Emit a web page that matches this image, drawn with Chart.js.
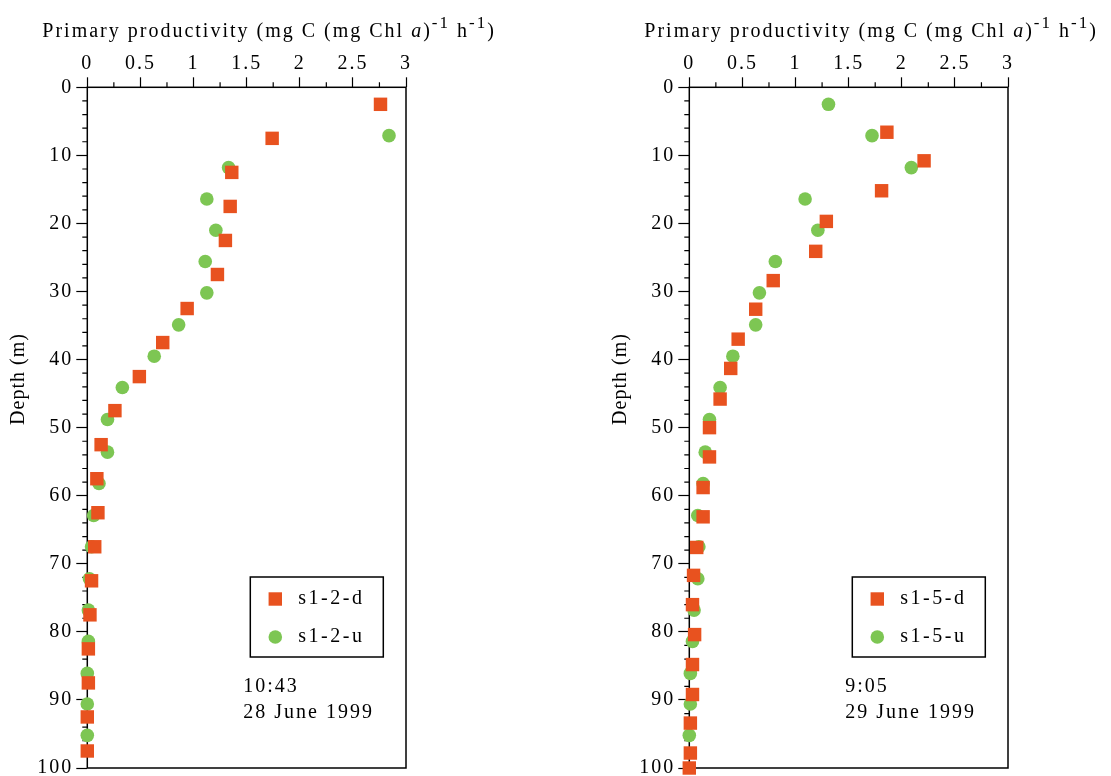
<!DOCTYPE html>
<html>
<head>
<meta charset="utf-8">
<script src="https://cdn.jsdelivr.net/npm/chart.js@4.4.0/dist/chart.umd.min.js"></script>
<style>
    html, body { margin: 0; padding: 0; background: #fff; overflow: hidden; }
    .panel { position: absolute; top: 0; height: 783px; }
</style>
</head>
<body>
<div class="panel" style="left:0;width:520px"><canvas id="chartLeft"></canvas></div>
<div class="panel" style="left:602px;width:509px"><canvas id="chartRight"></canvas></div>
<script>
// axis ticks
const productivityTicks = [0, 0.5, 1, 1.5, 2, 2.5, 3];
const depthTicks = [0, 10, 20, 30, 40, 50, 60, 70, 80, 90, 100];

// station s1-2, 28 June 1999
const s12dDepth = [2.5, 7.5, 12.5, 17.5, 22.5, 27.5, 32.5, 37.5, 42.5, 47.5, 52.5, 57.5, 62.5, 67.5, 72.5, 77.5, 82.5, 87.5, 92.5, 97.5];
const s12dValue = [2.76, 1.74, 1.36, 1.345, 1.30, 1.225, 0.94, 0.71, 0.49, 0.26, 0.13, 0.09, 0.10, 0.07, 0.04, 0.025, 0.01, 0.01, 0, 0];
const s12uDepth = [7.1, 11.8, 16.4, 21.0, 25.6, 30.2, 34.9, 39.5, 44.1, 48.8, 53.6, 58.2, 62.9, 67.5, 72.2, 76.8, 81.4, 86.1, 90.6, 95.2];
const s12uValue = [2.84, 1.33, 1.125, 1.21, 1.11, 1.125, 0.86, 0.63, 0.33, 0.19, 0.19, 0.11, 0.06, 0.04, 0.02, 0.01, 0.01, 0, 0, 0];

// station s1-5, 29 June 1999
const s15dDepth = [6.6, 10.8, 15.2, 19.7, 24.1, 28.4, 32.6, 37.0, 41.3, 45.8, 50.0, 54.3, 58.8, 63.1, 67.6, 71.7, 76.0, 80.4, 84.8, 89.2, 93.4, 97.8, 100];
const s15dValue = [1.86, 2.21, 1.81, 1.29, 1.19, 0.79, 0.625, 0.46, 0.39, 0.29, 0.19, 0.19, 0.13, 0.13, 0.07, 0.04, 0.03, 0.05, 0.03, 0.03, 0.01, 0.01, 0];
const s15uDepth = [2.5, 7.1, 11.8, 16.4, 21.0, 25.6, 30.2, 34.9, 39.5, 44.1, 48.8, 53.6, 58.2, 62.9, 67.5, 72.2, 76.8, 81.4, 86.1, 90.6, 95.2];
const s15uValue = [1.31, 1.72, 2.09, 1.09, 1.21, 0.81, 0.66, 0.625, 0.41, 0.29, 0.19, 0.15, 0.13, 0.08, 0.09, 0.08, 0.045, 0.03, 0.01, 0.01, 0];

const ORANGE = '#E8521F';
const GREEN = '#7DC653';
const SERIF = '"Liberation Serif", "Times New Roman", serif';

const toPoints = (xs, ys) => xs.map((x, i) => ({ x: x, y: ys[i] }));

// frame, minor ticks, title, legend box and annotation
const decorPlugin = {
    id: 'decor',
    beforeDraw(chart) {
        // the old plot uses a wide, loosely spaced serif
        chart.ctx.letterSpacing = '2px';
    },
    beforeDatasetsDraw(chart) {
        const ctx = chart.ctx;
        const a = chart.chartArea;
        const xs = chart.scales.x;
        const ys = chart.scales.y;
        ctx.save();
        ctx.strokeStyle = '#000';
        ctx.lineWidth = 1.5;
        ctx.strokeRect(a.left, a.top, a.right - a.left, a.bottom - a.top);
        ctx.lineWidth = 1.2;
        ctx.beginPath();
        for (let v = 0.25; v < 3; v += 0.5) {
            const px = xs.getPixelForValue(v);
            ctx.moveTo(px, a.top);
            ctx.lineTo(px, a.top - 5);
        }
        for (let d = 0; d < 100; d += 2) {
            if (d % 10 === 0) continue;
            const py = ys.getPixelForValue(d);
            ctx.moveTo(a.left, py);
            ctx.lineTo(a.left - 5, py);
        }
        ctx.stroke();
        ctx.restore();
    },
    afterDraw(chart, args, opts) {
        const ctx = chart.ctx;
        const a = chart.chartArea;
        ctx.save();
        ctx.fillStyle = '#000';
        ctx.textBaseline = 'alphabetic';

        // top title with superscripts
        ctx.letterSpacing = '2px';
        const parts = [
            { t: 'Primary productivity (mg C (mg Chl ', f: '20px ' + SERIF, dy: 0 },
            { t: 'a', f: 'italic 20px ' + SERIF, dy: 0 },
            { t: ')', f: '20px ' + SERIF, dy: 0 },
            { t: '-1', f: '17px ' + SERIF, dy: -9 },
            { t: ' h', f: '20px ' + SERIF, dy: 0 },
            { t: '-1', f: '17px ' + SERIF, dy: -9 },
            { t: ')', f: '20px ' + SERIF, dy: 0 }
        ];
        let x = a.left - 45;
        parts.forEach(p => {
            ctx.font = p.f;
            ctx.fillText(p.t, x, 37 + p.dy);
            x += ctx.measureText(p.t).width;
        });

        // depth label
        ctx.save();
        ctx.letterSpacing = '1px';
        ctx.translate(19, 379);
        ctx.rotate(-Math.PI / 2);
        ctx.font = '20px ' + SERIF;
        ctx.textAlign = 'center';
        ctx.textBaseline = 'middle';
        ctx.fillText('Depth (m)', 0, 0);
        ctx.restore();

        // legend box
        const bx = a.left + 163;
        const by = 577;
        ctx.lineWidth = 1.5;
        ctx.strokeStyle = '#000';
        ctx.strokeRect(bx, by, 133, 80);
        ctx.letterSpacing = '2.5px';
        chart.data.datasets.forEach((ds, i) => {
            const cy = by + 22 + i * 38;
            ctx.fillStyle = ds.backgroundColor;
            Chart.helpers.drawPoint(ctx, {
                pointStyle: ds.pointStyle,
                radius: ds.pointRadius,
                rotation: 0,
                borderWidth: 0
            }, bx + 25, cy);
            ctx.fillStyle = '#000';
            ctx.font = '20px ' + SERIF;
            ctx.textBaseline = 'middle';
            ctx.fillText(ds.label, bx + 48, cy);
        });

        // time and date
        ctx.letterSpacing = '2px';
        ctx.textBaseline = 'alphabetic';
        ctx.font = '20px ' + SERIF;
        opts.note.forEach((line, i) => {
            ctx.fillText(line, a.left + 156, 692 + i * 26);
        });
        ctx.restore();
    }
};

function buildChart(canvasId, dLabel, dPoints, uLabel, uPoints, note, rightPad) {
    const ctx = document.getElementById(canvasId);
    if (!ctx) return;

    new Chart(ctx.getContext('2d'), {
        type: 'scatter',
        data: {
            datasets: [
                {
                    label: dLabel,
                    data: dPoints,
                    pointStyle: 'rect',
                    pointRadius: 9.5,
                    backgroundColor: ORANGE,
                    borderWidth: 0,
                    clip: false
                },
                {
                    label: uLabel,
                    data: uPoints,
                    pointStyle: 'circle',
                    pointRadius: 6.8,
                    backgroundColor: GREEN,
                    borderWidth: 0,
                    clip: false
                }
            ]
        },
        options: {
            responsive: true,
            maintainAspectRatio: false,
            animation: false,
            layout: {
                autoPadding: false,
                padding: { left: 0, top: 0, right: rightPad, bottom: 1.5 }
            },
            plugins: {
                legend: { display: false },
                tooltip: { enabled: false },
                decor: { note: note }
            },
            scales: {
                x: {
                    type: 'linear',
                    position: 'top',
                    min: 0,
                    max: 3,
                    afterBuildTicks: scale => {
                        scale.ticks = productivityTicks.map(v => ({ value: v }));
                    },
                    afterFit: scale => { scale.height = 87.3; },
                    border: { display: false },
                    grid: {
                        drawOnChartArea: false,
                        tickLength: 10,
                        tickColor: '#000',
                        tickWidth: 1.2
                    },
                    ticks: {
                        color: '#000',
                        padding: 2,
                        maxRotation: 0,
                        font: { family: SERIF, size: 20 },
                        callback: v => String(v)
                    }
                },
                y: {
                    type: 'linear',
                    reverse: true,
                    min: 0,
                    max: 100,
                    afterBuildTicks: scale => {
                        scale.ticks = depthTicks.map(v => ({ value: v }));
                    },
                    afterFit: scale => { scale.width = 87.3; },
                    border: { display: false },
                    grid: {
                        drawOnChartArea: false,
                        tickLength: 11,
                        tickColor: '#000',
                        tickWidth: 1.2
                    },
                    ticks: {
                        color: '#000',
                        padding: 3,
                        font: { family: SERIF, size: 20 },
                        callback: v => String(v)
                    }
                }
            }
        },
        plugins: [decorPlugin]
    });
}

buildChart('chartLeft', 's1-2-d', toPoints(s12dValue, s12dDepth), 's1-2-u', toPoints(s12uValue, s12uDepth),
    ['10:43', '28 June 1999'], 114);
buildChart('chartRight', 's1-5-d', toPoints(s15dValue, s15dDepth), 's1-5-u', toPoints(s15uValue, s15uDepth),
    ['9:05', '29 June 1999'], 103);
</script>
</body>
</html>
